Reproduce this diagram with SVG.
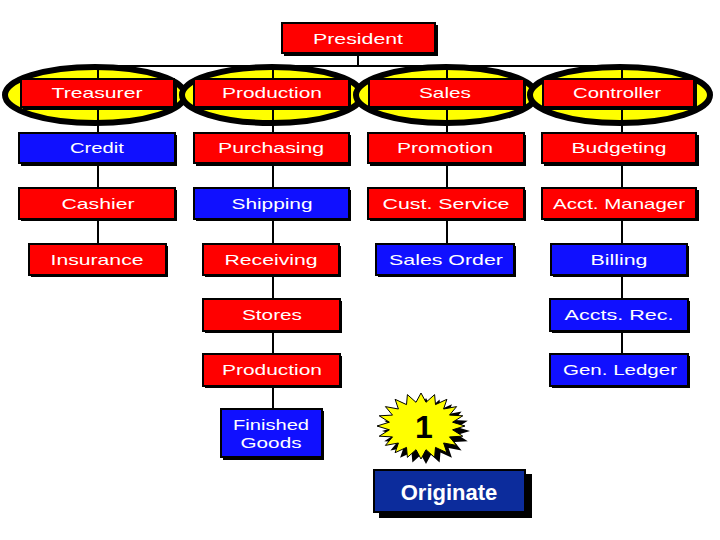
<svg xmlns="http://www.w3.org/2000/svg" xmlns:xlink="http://www.w3.org/1999/xlink" width="720" height="540" viewBox="0 0 720 540">
<style>
.sh{fill:#000}
.r{fill:#ff0000;stroke:#000;stroke-width:2}
.b{fill:#1010ff;stroke:#000;stroke-width:2}
.t{font-family:"Liberation Sans",Arial,sans-serif;font-size:15px;fill:#fff;text-anchor:middle}
.hl{fill:#ffff00;stroke:#000;stroke-width:6}
.c{stroke:#000;stroke-width:2;fill:none}
</style>
<defs>
<polygon id="star" points="421,393 426,402.3 434.6,394.6 435.5,404.6 446.9,399.3 443.6,409 456.6,406.6 449.5,415.1 462.8,415.8 452.6,422.2 465,426 452.6,429.8 462.8,436.2 449.5,436.9 456.6,445.4 443.6,443 446.9,452.7 435.5,447.4 434.6,457.4 426,449.7 421,459 416,449.7 407.4,457.4 406.5,447.4 395.1,452.7 398.4,443 385.4,445.4 392.5,436.9 379.2,436.2 389.4,429.8 377,426 389.4,422.2 379.2,415.8 392.5,415.1 385.4,406.6 398.4,409 395.1,399.3 406.5,404.6 407.4,394.6 416,402.3"/>
</defs>
<rect width="720" height="540" fill="#fff"/>
<g id="highlights">
<ellipse class="hl" cx="95" cy="95" rx="90" ry="28"/>
<ellipse class="hl" cx="272" cy="95" rx="90" ry="28"/>
<ellipse class="hl" cx="446" cy="95" rx="90" ry="28"/>
<ellipse class="hl" cx="620" cy="95" rx="90" ry="28"/>
</g>
<g id="connectors">
<line class="c" x1="358" y1="53" x2="358" y2="67"/>
<line class="c" x1="98" y1="66" x2="622" y2="66"/>
<line class="c" x1="98" y1="66" x2="98" y2="243"/>
<line class="c" x1="273" y1="66" x2="273" y2="408"/>
<line class="c" x1="447" y1="66" x2="447" y2="243"/>
<line class="c" x1="622" y1="66" x2="622" y2="353"/>
</g>
<g id="president"><rect class="sh" x="284" y="25" width="154" height="31"/><rect class="r" x="282" y="23" width="153" height="30"/><text class="t" x="358" y="44" textLength="90" lengthAdjust="spacingAndGlyphs">President</text></g>
<g id="treasurer"><rect class="sh" x="23" y="81" width="154" height="29"/><rect class="r" x="21" y="79" width="153" height="28"/><text class="t" x="97" y="98" textLength="91" lengthAdjust="spacingAndGlyphs">Treasurer</text></g>
<g id="production"><rect class="sh" x="196" y="81" width="155" height="29"/><rect class="r" x="194" y="79" width="155" height="28"/><text class="t" x="272" y="98" textLength="100" lengthAdjust="spacingAndGlyphs">Production</text></g>
<g id="sales"><rect class="sh" x="371" y="81" width="155" height="29"/><rect class="r" x="369" y="79" width="155" height="28"/><text class="t" x="445" y="98" textLength="52" lengthAdjust="spacingAndGlyphs">Sales</text></g>
<g id="controller"><rect class="sh" x="545" y="81" width="152" height="29"/><rect class="r" x="543" y="79" width="151" height="28"/><text class="t" x="617" y="98" textLength="88" lengthAdjust="spacingAndGlyphs">Controller</text></g>

<g id="credit"><rect class="sh" x="21" y="135" width="156" height="31"/><rect class="b" x="19" y="133" width="156" height="30"/><text class="t" x="97" y="153" textLength="54" lengthAdjust="spacingAndGlyphs">Credit</text></g>
<g id="purchasing"><rect class="sh" x="196" y="135" width="155" height="31"/><rect class="r" x="194" y="133" width="155" height="30"/><text class="t" x="271" y="153" textLength="106" lengthAdjust="spacingAndGlyphs">Purchasing</text></g>
<g id="promotion"><rect class="sh" x="370" y="135" width="156" height="31"/><rect class="r" x="368" y="133" width="156" height="30"/><text class="t" x="445" y="153" textLength="96" lengthAdjust="spacingAndGlyphs">Promotion</text></g>
<g id="budgeting"><rect class="sh" x="544" y="135" width="155" height="31"/><rect class="r" x="542" y="133" width="154" height="30"/><text class="t" x="619" y="153" textLength="95" lengthAdjust="spacingAndGlyphs">Budgeting</text></g>

<g id="cashier"><rect class="sh" x="21" y="190" width="156" height="31"/><rect class="r" x="19" y="188" width="156" height="31"/><text class="t" x="98" y="209" textLength="73" lengthAdjust="spacingAndGlyphs">Cashier</text></g>
<g id="shipping"><rect class="sh" x="196" y="190" width="155" height="31"/><rect class="b" x="194" y="188" width="155" height="31"/><text class="t" x="272" y="209" textLength="81" lengthAdjust="spacingAndGlyphs">Shipping</text></g>
<g id="cust-service"><rect class="sh" x="370" y="190" width="156" height="31"/><rect class="r" x="368" y="188" width="156" height="31"/><text class="t" x="446" y="209" textLength="127" lengthAdjust="spacingAndGlyphs">Cust. Service</text></g>
<g id="acct-manager"><rect class="sh" x="544" y="190" width="155" height="31"/><rect class="r" x="542" y="188" width="154" height="31"/><text class="t" x="619" y="209" textLength="132" lengthAdjust="spacingAndGlyphs">Acct. Manager</text></g>

<g id="insurance"><rect class="sh" x="31" y="246" width="137" height="31"/><rect class="r" x="29" y="244" width="137" height="31"/><text class="t" x="97" y="265" textLength="93" lengthAdjust="spacingAndGlyphs">Insurance</text></g>
<g id="receiving"><rect class="sh" x="205" y="246" width="136" height="31"/><rect class="r" x="203" y="244" width="136" height="31"/><text class="t" x="271" y="265" textLength="93" lengthAdjust="spacingAndGlyphs">Receiving</text></g>
<g id="sales-order"><rect class="sh" x="378" y="246" width="138" height="31"/><rect class="b" x="376" y="244" width="138" height="31"/><text class="t" x="446" y="265" textLength="114" lengthAdjust="spacingAndGlyphs">Sales Order</text></g>
<g id="billing"><rect class="sh" x="553" y="246" width="136" height="31"/><rect class="b" x="551" y="244" width="136" height="31"/><text class="t" x="619" y="265" textLength="57" lengthAdjust="spacingAndGlyphs">Billing</text></g>

<g id="stores"><rect class="sh" x="205" y="301" width="137" height="32"/><rect class="r" x="203" y="299" width="137" height="32"/><text class="t" x="272" y="320" textLength="60" lengthAdjust="spacingAndGlyphs">Stores</text></g>
<g id="accts-rec"><rect class="sh" x="552" y="301" width="138" height="32"/><rect class="b" x="550" y="299" width="138" height="32"/><text class="t" x="619" y="320" textLength="109" lengthAdjust="spacingAndGlyphs">Accts. Rec.</text></g>

<g id="production2"><rect class="sh" x="205" y="356" width="137" height="32"/><rect class="r" x="203" y="354" width="137" height="32"/><text class="t" x="272" y="375" textLength="100" lengthAdjust="spacingAndGlyphs">Production</text></g>
<g id="gen-ledger"><rect class="sh" x="552" y="356" width="138" height="32"/><rect class="b" x="550" y="354" width="138" height="32"/><text class="t" x="620" y="375" textLength="114" lengthAdjust="spacingAndGlyphs">Gen. Ledger</text></g>

<g id="finished-goods"><rect class="sh" x="223" y="411" width="101" height="49"/><rect class="b" x="221" y="409" width="101" height="48"/><text class="t" x="271" y="430" textLength="76" lengthAdjust="spacingAndGlyphs">Finished</text><text class="t" x="271" y="448" textLength="61" lengthAdjust="spacingAndGlyphs">Goods</text></g>

<g id="badge">
<use xlink:href="#star" transform="translate(5,5)" fill="#000"/>
<use xlink:href="#star" fill="#ffff00" stroke="#000" stroke-width="1"/>
<text x="424" y="438" font-family="'Liberation Sans',Arial,sans-serif" font-size="32" font-weight="bold" fill="#000" text-anchor="middle">1</text>
</g>
<g id="originate">
<rect x="379" y="474" width="153" height="44" fill="#000"/>
<rect x="374" y="470" width="151" height="42" fill="#0c2c9c" stroke="#000" stroke-width="2"/>
<text x="449" y="500" font-family="'Liberation Sans',Arial,sans-serif" font-size="22" font-weight="bold" fill="#fff" text-anchor="middle">Originate</text>
</g>
</svg>
